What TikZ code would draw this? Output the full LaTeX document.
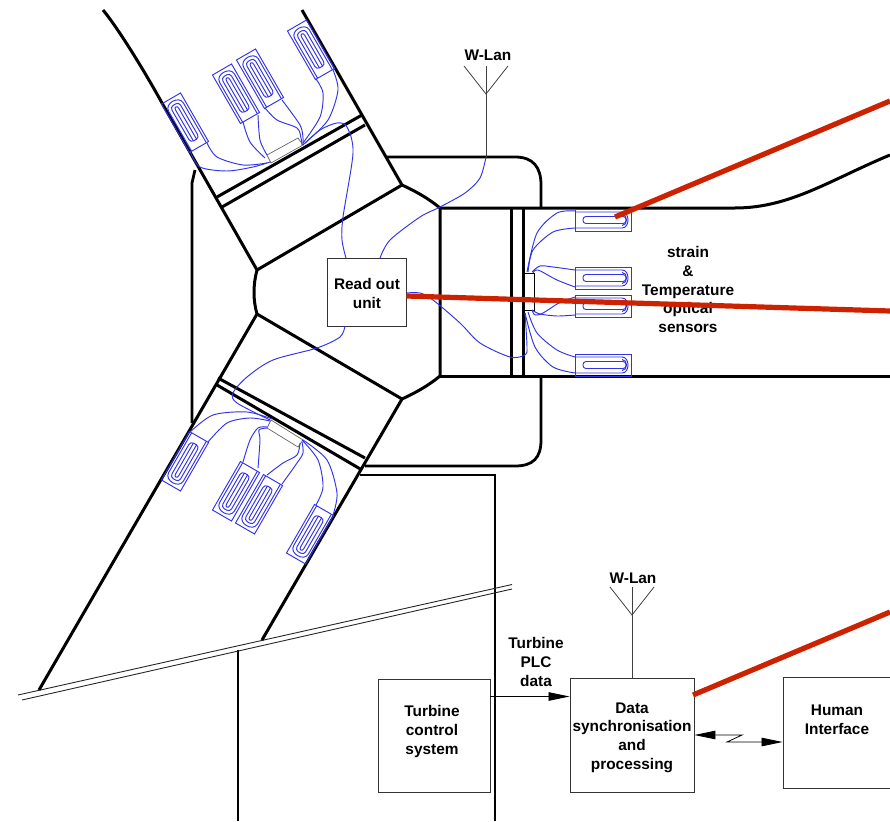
\documentclass[tikz,border=0pt]{standalone}
\usepackage{fontspec}
\setmainfont{Liberation Sans}
\usepackage{tikz}
\usetikzlibrary{arrows.meta}
\usetikzlibrary{positioning}
\definecolor{fibre_blue}{RGB}{50,50,235}
\definecolor{cable_red}{RGB}{204,34,0}
\tikzset{
wall/.style={draw=black, line width=3pt},
casing/.style={draw=black, line width=2.8pt},
fibre/.style={draw=fibre_blue, line width=0.95pt},
cable/.style={draw=cable_red, line width=5.2pt},
box/.style={rectangle, draw=black!80, line width=0.9pt, fill=white, inner sep=0pt},
caption/.style={align=center, inner sep=0pt, font=\fontsize{15.4}{18.7}\selectfont\bfseries},
signal/.style={draw=black, line width=0.8pt, {Stealth[length=21pt,width=8.5pt,inset=0pt]}-{Stealth[length=21pt,width=8.5pt,inset=0pt]}},
mast/.style={draw=black!75, line width=0.8pt},
gateway/.style={draw=black!60, line width=0.7pt, fill=white},
ground_line/.style={draw=black!85, line width=0.9pt},
sensor/.pic={
    \draw[fibre] (0,-11) rectangle (56,11);
    \draw[fibre] (0,-8) -- (47,-8) .. controls (55,-8) and (55,8) .. (47,8) -- (0,8);
    \draw[fibre, rounded corners=3pt] (8,-3.5) rectangle (51,3.5);
    \draw[fibre] (47,-5.5) .. controls (53,-5.5) and (53,5.5) .. (47,5.5);
},
tilted_sensor/.pic={
    \draw[fibre] (0,-11) rectangle (56,11);
    \draw[fibre] (0,-8.5) -- (46,-8.5) .. controls (55,-8.5) and (55,8.5) .. (46,8.5) -- (0,8.5);
    \draw[fibre, rounded corners=3.5pt] (8,-5) -- (49,-5) -- (49,5) -- (8,5) -- cycle;
    \draw[fibre] (8,-1.8) -- (44,-1.8) .. controls (47,-1.8) and (47,1.8) .. (44,1.8) -- (8,1.8);
},
antenna/.pic={
    \draw[mast] (-22,-28) -- (0,0) -- (22,-28);
    \draw[mast] (0,-28) -- (0,0);
}
}
\begin{document}
\begin{tikzpicture}[x=1pt, y=-1pt]
    \clip (0,0) rectangle (890,821);
    % casing and tower
    \draw[casing] (195,170) -- (192,183) -- (192,423);
    \draw[casing] (387,157) -- (515,157) .. controls (533,157) and (541,167) .. (541,185) -- (541,208);
    \draw[casing] (541,376) -- (541,440) .. controls (541,458) and (533,466) .. (515,466) -- (365,466);
    \draw[casing] (360,475) -- (495,475) -- (495,821);
    \draw[casing] (238,650) -- (238,821);
    \draw[ground_line] (18,695) -- (512,584.5);
    \draw[ground_line] (22,700) -- (512,589);
    % blades
    \draw[wall] (103,10) .. controls (118,28) and (145,72) .. (162,103) -- (257,270) .. controls (253,285) and (253,300) .. (257,314) -- (39,690);
    \draw[wall] (302,10) -- (402,185) .. controls (415,191) and (428,198) .. (440,208) -- (440,376) .. controls (428,386) and (415,393) .. (402,399) -- (262,640);
    \draw[wall] (257,270) -- (402,185);
    \draw[wall] (257,314) -- (402,399);
    \draw[wall] (440,208) -- (735,208) .. controls (790,208) and (830,180) .. (890,155);
    \draw[wall] (440,376) -- (890,376);
    % flanges
    \draw[wall] (217,197) -- (362,115);
    \draw[wall] (222,207) -- (365,125);
    \draw[wall] (218,378) -- (365,458);
    \draw[wall] (217,385) -- (362,470);
    \draw[wall] (511,208) -- (511,376);
    \draw[wall] (523,208) -- (523,376);
    % interface plates
    \draw[gateway] (267,155) -- (298,138) -- (303,145) -- (271,163) -- cycle;
    \draw[gateway] (267,428) -- (298,447) -- (303,440) -- (271,420) -- cycle;
    \draw[gateway, draw=black] (524,273) rectangle (534,310);
    % sensors
    \foreach \px/\py/\ang in {199/147/120, 250/118/120, 274/103/120, 325/74/120,
        199/437/240, 250/467/240, 273/480/240, 324/510/240}
        \pic[rotate=\ang] at (\px,\py) {tilted_sensor};
    \foreach \py in {220, 278, 306, 365}
        \pic at (575,\py) {sensor};
    % fibres upper blade
    \draw[fibre] plot[smooth] coordinates {(190,151) (200,167) (227,171) (253,167) (270,162)};
    \draw[fibre] plot[smooth] coordinates {(207,143) (217,157) (243,165) (267,163)};
    \draw[fibre] plot[smooth] coordinates {(243,122) (250,142) (265,158)};
    \draw[fibre] plot[smooth] coordinates {(258,115) (260,140) (267,155)};
    \draw[fibre] plot[smooth] coordinates {(265,108) (277,120) (297,128) (301,138) (302,145)};
    \draw[fibre] plot[smooth] coordinates {(282,100) (300,125) (303,138) (303,145)};
    \draw[fibre] plot[smooth] coordinates {(316,79) (323,93) (320,117) (303,143)};
    \draw[fibre] plot[smooth] coordinates {(333,70) (338,90) (328,120) (305,143)};
    % fibres lower blade
    \draw[fibre] plot[smooth] coordinates {(190,432) (213,415) (247,412) (272,419)};
    \draw[fibre] plot[smooth] coordinates {(208,442) (227,423) (250,418) (270,421)};
    \draw[fibre] plot[smooth] coordinates {(243,462) (250,440) (258,428) (267,427)};
    \draw[fibre] plot[smooth] coordinates {(258,468) (260,440) (259,430) (267,428)};
    \draw[fibre] plot[smooth] coordinates {(267,475) (283,463) (297,455) (300,443)};
    \draw[fibre] plot[smooth] coordinates {(282,484) (297,463) (303,453) (302,442)};
    \draw[fibre] plot[smooth] coordinates {(316,505) (323,487) (318,460) (302,440)};
    \draw[fibre] plot[smooth] coordinates {(333,515) (337,493) (327,460) (303,440)};
    % fibres root
    \draw[fibre] plot[smooth] coordinates {(575,211) (557,213) (537,233) (527,272)};
    \draw[fibre] plot[smooth] coordinates {(575,228) (553,232) (533,250) (528,272)};
    \draw[fibre] plot[smooth] coordinates {(575,270) (553,267) (540,266) (532,272)};
    \draw[fibre] plot[smooth] coordinates {(575,287) (557,280) (538,270) (533,273)};
    \draw[fibre] plot[smooth] coordinates {(575,315) (557,316) (540,314) (532,310)};
    \draw[fibre] plot[smooth] coordinates {(575,297) (559,303) (543,313) (535,315) (532,310)};
    \draw[fibre] plot[smooth] coordinates {(575,357) (557,350) (537,333) (528,312)};
    \draw[fibre] plot[smooth] coordinates {(575,373) (553,367) (535,347) (525,313)};
    % boxes
    \node[box, minimum width=79pt, minimum height=68pt] (read_out) at (366.5,292) {};
    \node[caption] (read_out_text) at (367,293.5) {Read out\\unit};
    \node[box, minimum width=112pt, minimum height=113pt] (turbine) at (434,735.5) {};
    \node[caption] (turbine_text) at (432,731.5) {Turbine\\control\\system};
    \node[box, minimum width=124pt, minimum height=114pt] (data_sync) at (632,735) {};
    \node[caption] (data_sync_text) at (632,737.5) {Data\\synchronisation\\and\\processing};
    \node[box, minimum width=130pt, minimum height=111pt] (human) at (848,732.5) {};
    \node[caption] (human_text) at (837,720) {Human\\Interface};
    \node[caption] (plc_text) at (536,662) {Turbine\\PLC\\data};
    \node[caption] (sensors_text) at (688,289.5) {strain\\\&\\Temperature\\optical\\sensors};
    \node[caption] (wlan_hub) at (488,55) {W-Lan};
    \node[caption] (wlan_ground) at (633,578) {W-Lan};
    % fibres to read out unit
    \coordinate (mast_foot) at (486,157);
    \draw[fibre] plot[smooth] coordinates {(380,258) (390,240) (420,217) (440,207) (465,193) (480,178) (486,157)};
    \draw[fibre] plot[smooth] coordinates {(346,258) (342,240) (343,217) (353,153) (347,127) (337,123) (320,130) (303,145)};
    \draw[fibre] plot[smooth] coordinates {(345,326) (340,337) (317,348) (273,360) (247,377) (233,393) (237,403) (270,420)};
    \draw[fibre] plot[smooth] coordinates {(406,293) (420,293) (433,300) (460,323) (480,343) (510,357) (525,355) (527,347) (525,313)};
    % antennas
    \pic at (486,94) {antenna};
    \pic at (632,615) {antenna};
    \coordinate (mast_head) at (486,94);
    \coordinate (ground_head) at (632,615);
    \draw[mast] (mast_head) -- (mast_foot);
    \draw[mast] (ground_head) -- (data_sync.north);
    % links
    \draw[draw=black, line width=0.8pt, -{Stealth[length=21pt,width=8.5pt,inset=0pt]}] (turbine.east |- 0,696.5) -- (data_sync.west |- 0,696.5);
    \coordinate (bolt_a) at (742,735);
    \coordinate (bolt_b) at (727,742);
    \draw[signal] (data_sync.east) -- (bolt_a) -- (bolt_b) -- ([yshift=-9.5pt]human.west);
    % cables
    \coordinate (cable_hub) at (890,311);
    \coordinate (cable_blade) at (890,101);
    \coordinate (cable_ground) at (890,612);
    \coordinate (sensor_tip) at (615,217);
    \draw[cable] (read_out.east |- 0,296) -- (cable_hub);
    \draw[cable] (sensor_tip) -- (cable_blade);
    \draw[cable] (693,695) -- (cable_ground);
\end{tikzpicture}
\end{document}
